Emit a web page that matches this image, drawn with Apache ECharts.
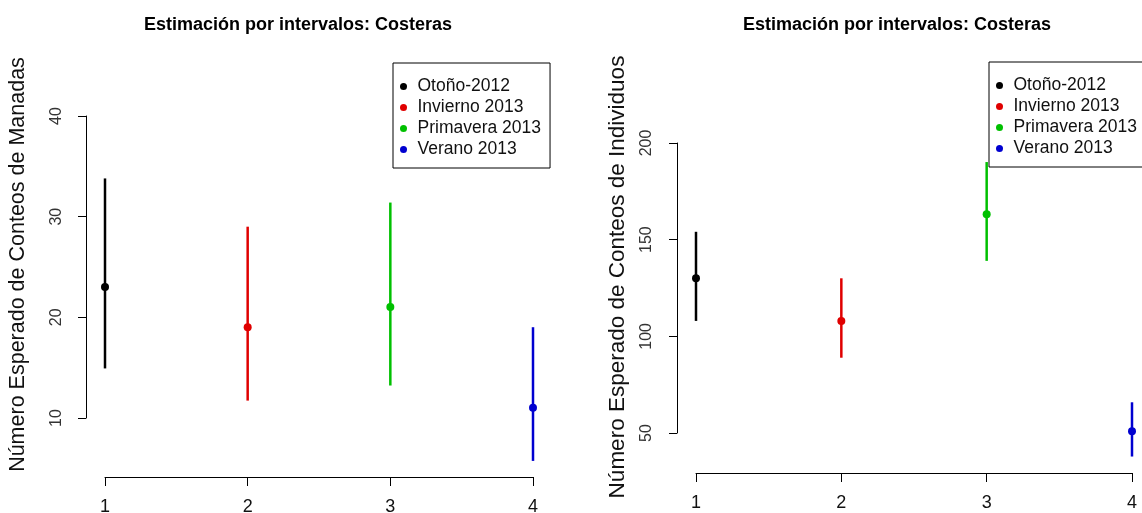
<!DOCTYPE html>
<html>
<head>
<meta charset="utf-8">
<script src="https://cdn.jsdelivr.net/npm/echarts@6/dist/echarts.min.js"></script>
<style>html,body{margin:0;padding:0;background:#fff}#c{width:1142px;height:513px}</style>
</head>
<body>
<div id="c"></div>
<script>
// ---- data ----
const seasons = ['Otoño-2012', 'Invierno 2013', 'Primavera 2013', 'Verano 2013'];
const seasonColors = ['#000000', '#e00000', '#00c000', '#0000d0'];
const xPositions = [1, 2, 3, 4];
// Left panel: Manadas
const manadasLow  = [14.9, 11.7, 13.2, 5.7];
const manadasMean = [23, 19, 21, 11];
const manadasHigh = [33.8, 29, 31.4, 19];
// Right panel: Individuos
const indivLow  = [108, 89, 139, 38];
const indivMean = [130, 108, 163, 51];
const indivHigh = [154, 130, 190, 66];
const xTicks = [1, 2, 3, 4];
const manadasTicks = [10, 20, 30, 40];
const indivTicks = [50, 100, 150, 200];
const titleText = 'Estimación por intervalos: Costeras';
const yTitleLeft = 'Número Esperado de Conteos de Manadas';
const yTitleRight = 'Número Esperado de Conteos de Individuos';

const FONT = 'Liberation Sans, Arial, sans-serif';
const chart = echarts.init(document.getElementById('c'), null, {renderer: 'canvas'});

function renderBar(params, api) {
  const x = api.value(0), lo = api.value(1), m = api.value(2), hi = api.value(3);
  const pLo = api.coord([x, lo]), pHi = api.coord([x, hi]), pM = api.coord([x, m]);
  const color = api.visual('color');
  return {type: 'group', children: [
    {type: 'line', shape: {x1: pLo[0], y1: pLo[1], x2: pHi[0], y2: pHi[1]}, style: {stroke: color, lineWidth: 2.5}},
    {type: 'circle', shape: {cx: pM[0], cy: pM[1], r: 4}, style: {fill: color}}
  ]};
}

const series = [];
seasons.forEach((s, i) => {
  series.push({type: 'custom', name: s, xAxisIndex: 0, yAxisIndex: 0, renderItem: renderBar,
    itemStyle: {color: seasonColors[i]}, encode: {x: 0, y: [1, 2, 3]},
    data: [[xPositions[i], manadasLow[i], manadasMean[i], manadasHigh[i]]]});
  series.push({type: 'custom', name: s, xAxisIndex: 2, yAxisIndex: 2, renderItem: renderBar,
    itemStyle: {color: seasonColors[i]}, encode: {x: 0, y: [1, 2, 3]},
    data: [[xPositions[i], indivLow[i], indivMean[i], indivHigh[i]]]});
});

const axisLineStyle = {show: true, lineStyle: {color: '#000', width: 1}};
const hiddenAxis = (gi, extra) => Object.assign({type: 'value', gridIndex: gi, show: false, splitLine: {show: false}}, extra || {});

function xAxisVisible(gi, margin) {
  return {type: 'value', gridIndex: gi, min: xTicks[0], max: xTicks[xTicks.length - 1], interval: 1,
    axisLine: axisLineStyle, axisTick: {show: true, length: 9, lineStyle: {color: '#000'}},
    splitLine: {show: false},
    axisLabel: {fontSize: 18, fontFamily: FONT, color: '#111', margin: margin}};
}
function yAxisVisible(gi, ticks, name, nameGap, margin, nameSize, namePad) {
  return {type: 'value', gridIndex: gi, min: ticks[0], max: ticks[ticks.length - 1], interval: ticks[1] - ticks[0],
    axisLine: axisLineStyle, axisTick: {show: true, length: 8, lineStyle: {color: '#000'}},
    splitLine: {show: false},
    axisLabel: {fontSize: 16, fontFamily: FONT, color: '#333', rotate: 90, margin: margin},
    name: name, nameLocation: 'middle', nameRotate: 90, nameGap: nameGap,
    nameTextStyle: {fontSize: nameSize, fontFamily: FONT, color: '#111', padding: namePad}};
}

const legendBase = {orient: 'vertical', icon: 'circle', itemWidth: 18, itemHeight: 7, itemGap: 0,
  padding: [13, 9, 8, 7], backgroundColor: '#fff', borderColor: '#000', borderWidth: 1, borderRadius: 0,
  selectedMode: false,
  textStyle: {fontSize: 17.5, fontFamily: FONT, color: '#111', lineHeight: 21, padding: 0}, data: seasons};

const gridBase = {containLabel: false, outerBoundsMode: 'none'};

chart.setOption({
  animation: false,
  backgroundColor: '#fff',
  title: [
    {text: titleText, left: 293, top: 11, textAlign: 'center', textStyle: {fontSize: 18, fontWeight: 'bold', fontFamily: FONT, color: '#000'}},
    {text: titleText, left: 892, top: 11, textAlign: 'center', textStyle: {fontSize: 18, fontWeight: 'bold', fontFamily: FONT, color: '#000'}}
  ],
  legend: [
    Object.assign({left: 393, top: 63}, legendBase),
    Object.assign({left: 989, top: 62}, legendBase)
  ],
  grid: [
    Object.assign({left: 105, top: 96, width: 428, height: 381}, gridBase),   // left data + x axis
    Object.assign({left: 86, top: 116, width: 428, height: 302}, gridBase),   // left y axis
    Object.assign({left: 696, top: 114, width: 436, height: 359}, gridBase),  // right data + x axis
    Object.assign({left: 677, top: 143, width: 436, height: 290}, gridBase)   // right y axis
  ],
  xAxis: [
    xAxisVisible(0, 21),
    hiddenAxis(1, {min: 0, max: 1}),
    xAxisVisible(2, 21),
    hiddenAxis(3, {min: 0, max: 1})
  ],
  yAxis: [
    hiddenAxis(0, {min: 4.1, max: 42}),
    yAxisVisible(1, manadasTicks, yTitleLeft, 57, 21, 21.5, [0, 0, 0, 5]),
    hiddenAxis(2, {min: 29.5, max: 214.8}),
    yAxisVisible(3, indivTicks, yTitleRight, 48, 22, 22.5, [0, 0, 0, 22])
  ],
  series: series
});
</script>
</body>
</html>
